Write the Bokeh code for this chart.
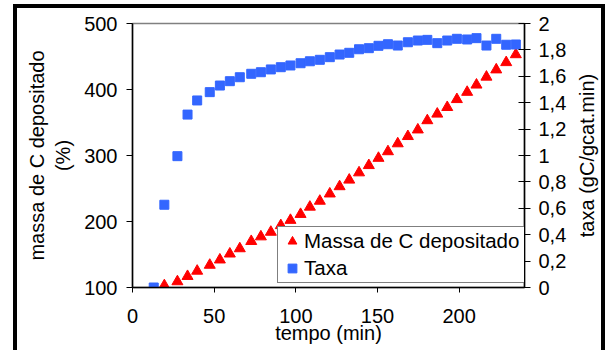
from bokeh.plotting import figure
from bokeh.layouts import row
from bokeh.models import (Range1d, LinearAxis, FixedTicker, CustomJSTickFormatter,
                          Legend, LegendItem)
from bokeh.embed import file_html
from bokeh.resources import INLINE

# ---- data ----
tempo_taxa = [13, 19.5, 27.5, 33.7, 39.6, 47.3, 53.5, 59.6, 65.7, 72.7, 78.6, 84.7,
              90.8, 96.7, 102.9, 108.6, 114.7, 120.8, 126.8, 132.7, 138.7, 144.7,
              150.6, 156.4, 162.4, 168.6, 174.7, 180.5, 186.6, 192.7, 198.6, 204.9,
              210.6, 216.7, 222.7, 228.8, 234.7]
taxa = [0, 0.627, 0.995, 1.31, 1.417, 1.48, 1.53, 1.563, 1.593, 1.619, 1.631, 1.652,
        1.669, 1.682, 1.699, 1.714, 1.725, 1.745, 1.765, 1.778, 1.805, 1.813,
        1.831, 1.843, 1.833, 1.858, 1.871, 1.876, 1.851, 1.871, 1.884, 1.879,
        1.889, 1.833, 1.884, 1.839, 1.841]
tempo_massa = [19.5, 27.5, 33.7, 39.6, 47.3, 53.5, 59.6, 65.7, 72.7, 78.6, 84.7,
               90.8, 96.7, 102.9, 108.6, 114.7, 120.8, 126.8, 132.7, 138.7, 144.7,
               150.6, 156.4, 162.4, 168.6, 174.7, 180.5, 186.6, 192.7, 198.6, 204.9,
               210.6, 216.7, 222.7, 228.8, 234.7]
massa = [103, 109, 117, 125, 134, 142, 151, 159, 170, 177, 184, 194, 202, 211, 222,
         231, 242, 253, 263, 274, 285, 296, 306, 318, 329, 339, 353, 363, 373, 385,
         396, 407, 419, 430, 441, 453]

x_ticks = [0, 50, 100, 150, 200]
left_ticks = [100, 200, 300, 400, 500]
right_ticks = [0, 0.2, 0.4, 0.6, 0.8, 1, 1.2, 1.4, 1.6, 1.8, 2]

x_title = "tempo (min)"
left_title = "massa de C depositado\n(%)"
right_title = "taxa (gC/gcat.min)"
legend_labels = ["Massa de C depositado", "Taxa"]

FONT = "Liberation Sans"
FS = "20px"

# page layout: outer black frame from x=13, y=4; plot frame at (132..524, 23..287)
p = figure(width=559, height=346, output_backend="svg", toolbar_location=None,
           x_range=Range1d(0, 240), y_range=Range1d(100, 500),
           min_border_left=119, min_border_right=48, min_border_top=19,
           min_border_bottom=63, background_fill_color="white",
           border_fill_alpha=0)
p.xgrid.visible = False
p.ygrid.visible = False
p.outline_line_color = "#808080"
p.outline_line_width = 1.5

p.extra_y_ranges = {"taxa": Range1d(0, 2)}

def style_axis(ax):
    ax.axis_line_color = "black"
    ax.axis_line_width = 1.5
    ax.major_tick_line_color = "black"
    ax.major_tick_line_width = 1
    ax.minor_tick_line_color = None
    ax.major_label_text_font = FONT
    ax.major_label_text_font_size = FS
    ax.major_label_text_color = "black"
    ax.axis_label_text_font = FONT
    ax.axis_label_text_font_size = FS
    ax.axis_label_text_font_style = "normal"
    ax.axis_label_text_color = "black"

xa = p.xaxis[0]
xa.ticker = FixedTicker(ticks=x_ticks)
style_axis(xa)
xa.major_tick_out = 5
xa.major_tick_in = 0
xa.major_label_standoff = 16
xa.axis_label = x_title
xa.axis_label_standoff = -4

ya = p.yaxis[0]
ya.ticker = FixedTicker(ticks=left_ticks)
style_axis(ya)
ya.major_tick_out = 6
ya.major_tick_in = 0
ya.major_label_standoff = 9
ya.axis_label = left_title
ya.axis_label_standoff = 7

ra = LinearAxis(y_range_name="taxa", ticker=FixedTicker(ticks=right_ticks))
style_axis(ra)
ra.major_tick_out = 6
ra.major_tick_in = 6
ra.major_label_standoff = 8
ra.formatter = CustomJSTickFormatter(code="""
const s = (Math.round(tick*10)/10).toString();
return s.replace('.', ',');
""")
p.add_layout(ra, "right")

r_massa = p.scatter(tempo_massa, massa, marker="triangle", size=11,
                    fill_color="#FF0000", line_color="#FF0000")
r_taxa = p.scatter(tempo_taxa, taxa, marker="square", size=9, y_range_name="taxa",
                   fill_color="#3366FF", line_color="#3366FF")

legend = Legend(items=[LegendItem(label=legend_labels[0], renderers=[r_massa]),
                       LegendItem(label=legend_labels[1], renderers=[r_taxa])],
                location=(145, 4), orientation="vertical",
                label_text_font=FONT, label_text_font_size="20.5px",
                label_text_color="black",
                glyph_width=24, glyph_height=22, label_height=22, label_width=219,
                label_standoff=0, spacing=3, padding=2, margin=0,
                border_line_color="black", border_line_width=1,
                background_fill_color="white", background_fill_alpha=1)
p.add_layout(legend, "center")

# narrow companion figure that only carries the right-hand title (reads bottom-to-top)
p2 = figure(width=33, height=346, output_backend="svg", toolbar_location=None,
            x_range=Range1d(0, 1), y_range=Range1d(0, 1), x_axis_location=None,
            min_border_left=27, min_border_right=0, min_border_top=19,
            min_border_bottom=63, background_fill_alpha=0, border_fill_alpha=0)
p2.outline_line_color = None
p2.xgrid.visible = False
p2.ygrid.visible = False
ta = p2.yaxis[0]
ta.ticker = FixedTicker(ticks=[])
ta.major_tick_out = 0
ta.major_tick_in = 0
ta.minor_tick_line_color = None
ta.major_label_text_font_size = "0px"
ta.axis_line_color = None
ta.axis_label = right_title
ta.axis_label_text_font = FONT
ta.axis_label_text_font_size = FS
ta.axis_label_text_font_style = "normal"
ta.axis_label_text_color = "black"
ta.axis_label_standoff = 2

layout = row(p, p2)
layout.margin = (4, 0, 0, 13)
layout.styles = {"background-color": "white",
                 "box-shadow": "inset 4px 0 0 0 black, inset -4px 0 0 0 black, inset 0 4px 0 0 black"}

open("out.html", "w").write(file_html(layout, INLINE))
